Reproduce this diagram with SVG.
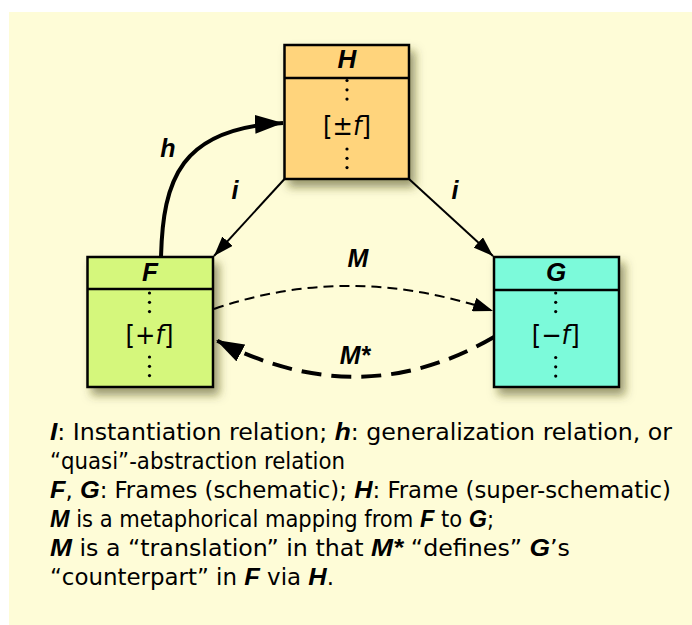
<svg xmlns="http://www.w3.org/2000/svg" width="692" height="625" viewBox="0 0 692 625">
<style>
.box{stroke:#000;stroke-width:2.5}
.div{stroke:#000;stroke-width:2.5}
.title{font-family:"Liberation Sans",Arial,sans-serif;font-weight:bold;font-style:italic;font-size:26px;text-anchor:middle}
.val{font-family:"Liberation Sans Narrow","DejaVu Sans Condensed","Liberation Sans",sans-serif;font-size:27px;text-anchor:middle}
.it{font-style:italic}
.lbl{font-family:"Liberation Sans",Arial,sans-serif;font-weight:bold;font-style:italic;font-size:25px;text-anchor:middle}
.txt{font-family:"Liberation Sans Narrow","DejaVu Sans Condensed","Liberation Sans",sans-serif;font-size:23px;fill:#000}
.b{font-family:"Liberation Sans",Arial,sans-serif;font-weight:bold;font-style:italic}
.thin{fill:none;stroke:#000;stroke-width:2}
.thick{fill:none;stroke:#000;stroke-width:4}
</style>
<defs>
<filter id="sh" x="-20%" y="-20%" width="150%" height="150%">
<feDropShadow dx="5" dy="7" stdDeviation="5" flood-color="#4a4a10" flood-opacity="0.55"/>
</filter>
<marker id="a1" viewBox="0 0 20 14" refX="20" refY="7" markerWidth="20" markerHeight="14" markerUnits="userSpaceOnUse" orient="auto">
<path d="M0,0 L20,7 L0,14 z" fill="#000"/>
</marker>
<marker id="a2" viewBox="0 0 28 19" refX="28" refY="9.5" markerWidth="28" markerHeight="19" markerUnits="userSpaceOnUse" orient="auto">
<path d="M0,0 L28,9.5 L0,19 z" fill="#000"/>
</marker>
<g id="dots3">
<circle cx="0" cy="0" r="1.6"/><circle cx="0" cy="9.3" r="1.6"/><circle cx="0" cy="18.6" r="1.6"/>
</g>
</defs>
<rect x="9" y="12" width="683" height="613" fill="#FEFCD7"/>

<g id="node-H">
<rect class="box" x="284.5" y="45" width="124.5" height="134" fill="#FFD47C" filter="url(#sh)"/>
<line class="div" x1="284.5" y1="78" x2="409" y2="78"/>
<text class="title" x="347" y="68">H</text>
<use href="#dots3" x="347" y="80.5"/>
<text class="val" x="347" y="135">[±<tspan class="it">f</tspan>]</text>
<use href="#dots3" x="347" y="149"/>
</g>

<g id="node-F">
<rect class="box" x="87.5" y="257" width="125.5" height="130" fill="#D5F77C" filter="url(#sh)"/>
<line class="div" x1="87.5" y1="289" x2="213" y2="289"/>
<text class="title" x="150" y="281">F</text>
<use href="#dots3" x="149.5" y="293"/>
<text class="val" x="149.5" y="344">[+<tspan class="it">f</tspan>]</text>
<use href="#dots3" x="149.5" y="357"/>
</g>

<g id="node-G">
<rect class="box" x="494" y="257" width="125" height="130" fill="#7CFADA" filter="url(#sh)"/>
<line class="div" x1="494" y1="290" x2="619" y2="290"/>
<text class="title" x="556" y="281">G</text>
<use href="#dots3" x="555.7" y="293"/>
<text class="val" x="555.7" y="344">[−<tspan class="it">f</tspan>]</text>
<use href="#dots3" x="555.7" y="357.5"/>
</g>

<g id="connectors">
<line class="thin" x1="284.5" y1="179" x2="214" y2="256" marker-end="url(#a1)"/>
<line class="thin" x1="409" y1="179" x2="493" y2="256" marker-end="url(#a1)"/>
<path class="thick" d="M161,257 C163,180 180,128 283,123" marker-end="url(#a2)"/>
<path class="thin" d="M214,309 Q350,262 493,311" stroke-dasharray="10 6" marker-end="url(#a1)"/>
<path class="thick" d="M494,337 Q360,415 216,340" stroke-dasharray="20 10" marker-end="url(#a2)"/>
<text class="lbl" x="168" y="157">h</text>
<text class="lbl" x="235" y="199">i</text>
<text class="lbl" x="455" y="199">i</text>
<text class="lbl" x="358" y="267">M</text>
<text class="lbl" x="355" y="364">M*</text>
</g>

<g id="caption">
<text class="txt" x="50" y="440" textLength="622" lengthAdjust="spacingAndGlyphs"><tspan class="b">I</tspan>: Instantiation relation; <tspan class="b">h</tspan>: generalization relation, or</text>
<text class="txt" x="50" y="469" textLength="295" lengthAdjust="spacingAndGlyphs">“quasi”-abstraction relation</text>
<text class="txt" x="50" y="498" textLength="621" lengthAdjust="spacingAndGlyphs"><tspan class="b">F</tspan>, <tspan class="b">G</tspan>: Frames (schematic); <tspan class="b">H</tspan>: Frame (super-schematic)</text>
<text class="txt" x="50" y="527" textLength="444" lengthAdjust="spacingAndGlyphs"><tspan class="b">M</tspan> is a metaphorical mapping from <tspan class="b">F</tspan> to <tspan class="b">G</tspan>;</text>
<text class="txt" x="50" y="556" textLength="520" lengthAdjust="spacingAndGlyphs"><tspan class="b">M</tspan> is a “translation” in that <tspan class="b">M*</tspan> “defines” <tspan class="b">G</tspan>’s</text>
<text class="txt" x="50" y="585" textLength="284" lengthAdjust="spacingAndGlyphs">“counterpart” in <tspan class="b">F</tspan> via <tspan class="b">H</tspan>.</text>
</g>
</svg>
